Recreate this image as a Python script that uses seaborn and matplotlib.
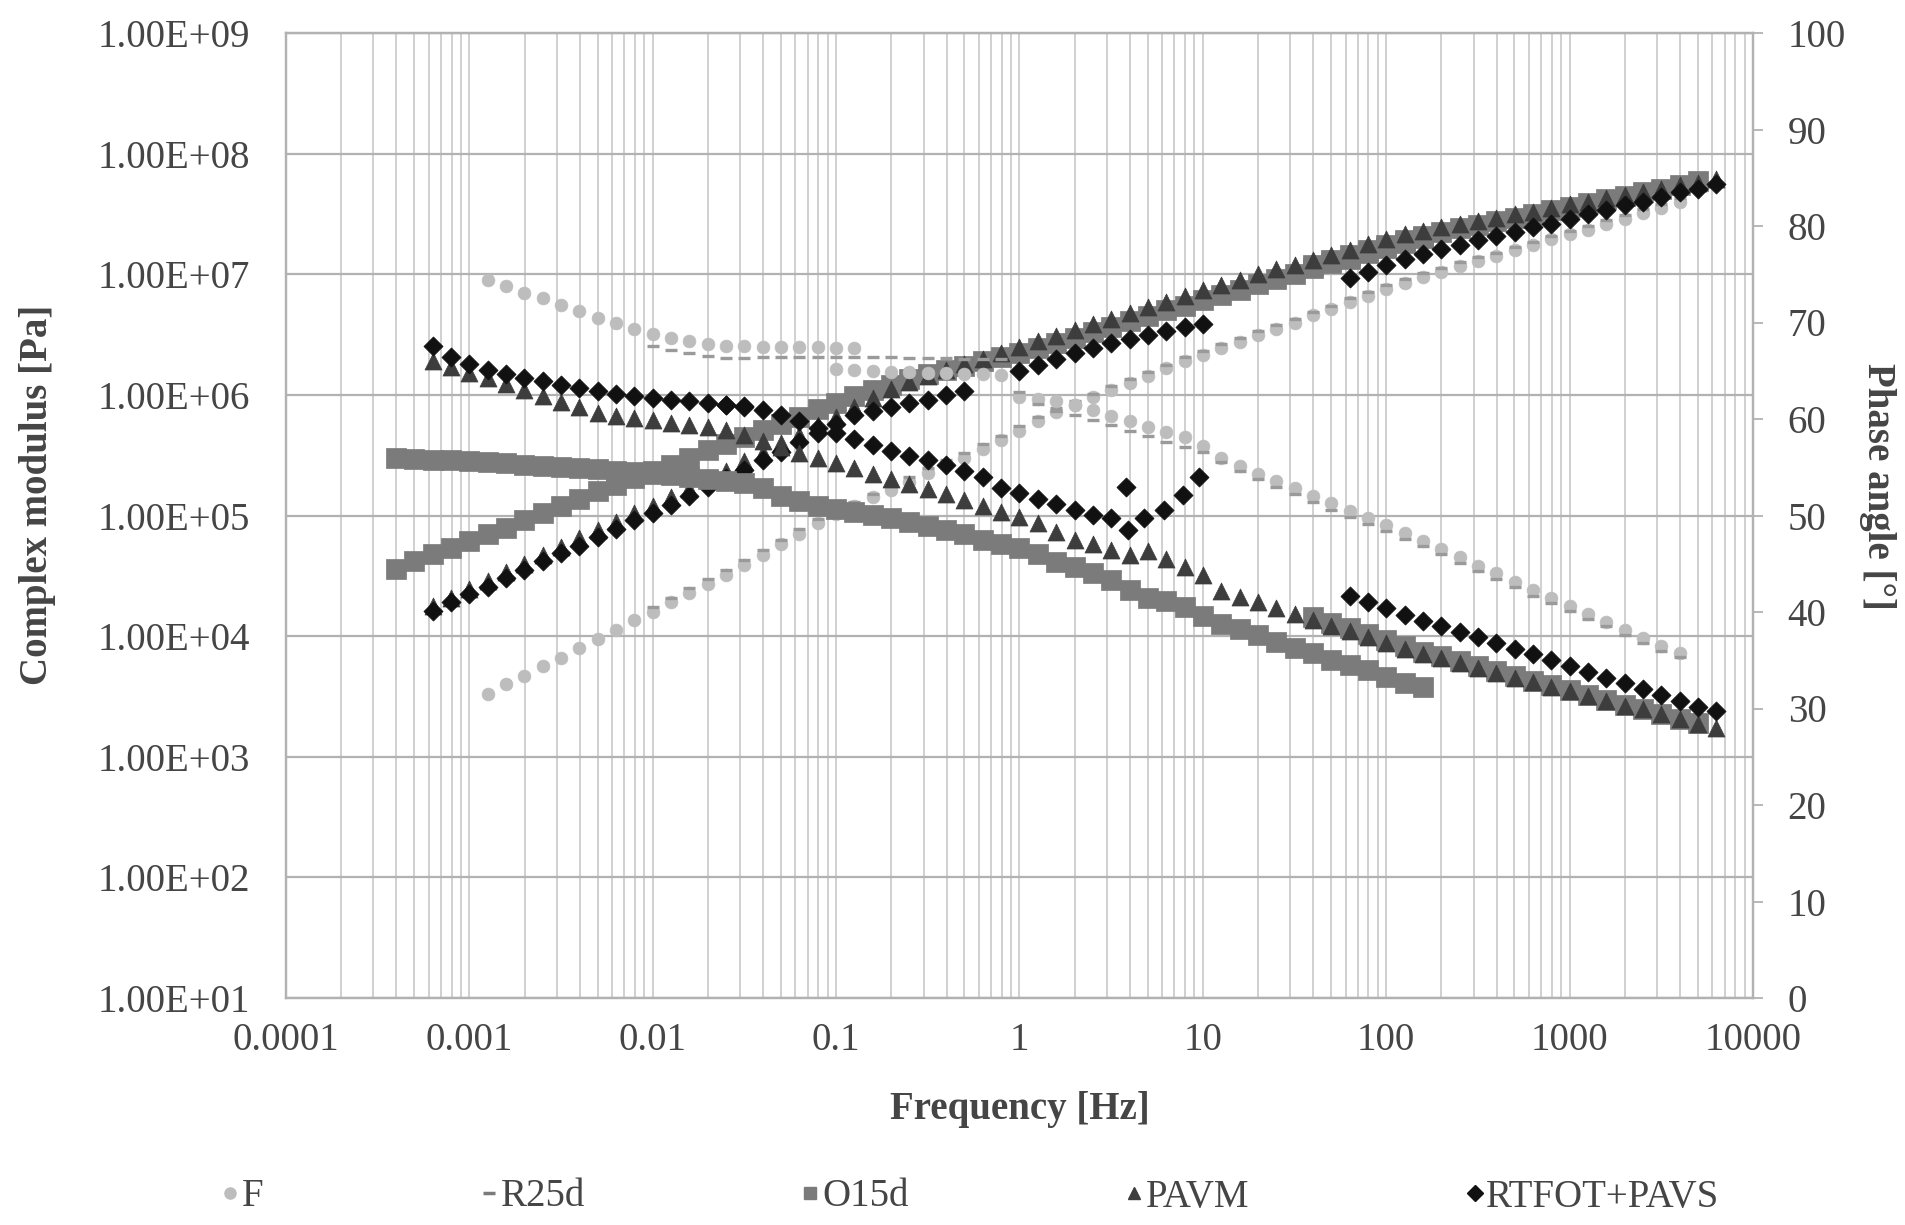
import numpy as np
import matplotlib
import matplotlib.pyplot as plt
from matplotlib.lines import Line2D
from matplotlib.ticker import (FixedLocator, LogLocator, FuncFormatter,
                               NullLocator, NullFormatter)
import seaborn as sns

matplotlib.use("Agg")

# ---- data (log10 frequency [Hz], log10 |G*| [Pa], phase [deg]) ----
F_MOD_LOGF = [-2.9, -2.8, -2.7, -2.6, -2.5, -2.4, -2.3, -2.2, -2.1, -2.0,
              -1.9, -1.8, -1.7, -1.6, -1.5, -1.4, -1.3, -1.2, -1.1, -1.0,
              -0.9, -0.8, -0.7, -0.6, -0.5, -0.4, -0.3, -0.2, -0.1, 0.0,
              0.1, 0.2, 0.3, 0.4, 0.5, 0.6, 0.7, 0.8, 0.9, 1.0,
              1.1, 1.2, 1.3, 1.4, 1.5, 1.6, 1.7, 1.8, 1.9, 2.0,
              2.1, 2.2, 2.3, 2.4, 2.5, 2.6, 2.7, 2.8, 2.9, 3.0,
              3.1, 3.2, 3.3, 3.4, 3.5, 3.6]
F_MOD = [3.52, 3.60, 3.67, 3.75, 3.82, 3.90, 3.98, 4.05, 4.13, 4.20,
         4.28, 4.36, 4.43, 4.51, 4.59, 4.67, 4.76, 4.85, 4.94, 5.01,
         5.08, 5.15, 5.21, 5.28, 5.35, 5.42, 5.48, 5.55, 5.63, 5.70,
         5.78, 5.86, 5.92, 5.98, 6.04, 6.10, 6.16, 6.22, 6.28, 6.33,
         6.39, 6.44, 6.50, 6.55, 6.60, 6.66, 6.71, 6.77, 6.82, 6.88,
         6.93, 6.98, 7.02, 7.07, 7.11, 7.15, 7.20, 7.24, 7.29, 7.33,
         7.37, 7.42, 7.46, 7.51, 7.55, 7.60]
F_PH_LOGF = [-2.9, -2.8, -2.7, -2.6, -2.5, -2.4, -2.3, -2.2, -2.1, -2.0,
             -1.9, -1.8, -1.7, -1.6, -1.5, -1.4, -1.3, -1.2, -1.1, -1.0, -0.9,
             -1.0, -0.9, -0.8, -0.7, -0.6, -0.5, -0.4, -0.3, -0.2, -0.1,
             0.0, 0.1, 0.2, 0.3, 0.4, 0.5, 0.6, 0.7, 0.8, 0.9,
             1.0, 1.1, 1.2, 1.3, 1.4, 1.5, 1.6, 1.7, 1.8, 1.9,
             2.0, 2.1, 2.2, 2.3, 2.4, 2.5, 2.6, 2.7, 2.8, 2.9,
             3.0, 3.1, 3.2, 3.3, 3.4, 3.5, 3.6]
F_PH = [74.4, 73.8, 73.1, 72.5, 71.8, 71.2, 70.5, 69.9, 69.3, 68.8,
        68.4, 68.1, 67.8, 67.6, 67.6, 67.5, 67.5, 67.5, 67.5, 67.4, 67.4,
        65.2, 65.1, 65.0, 64.9, 64.9, 64.8, 64.8, 64.7, 64.7, 64.6,
        62.3, 62.1, 61.9, 61.4, 60.9, 60.3, 59.8, 59.2, 58.7, 58.1,
        57.2, 56.0, 55.1, 54.3, 53.6, 52.8, 52.0, 51.3, 50.5, 49.7,
        49.0, 48.2, 47.4, 46.5, 45.7, 44.8, 44.0, 43.1, 42.3, 41.4,
        40.6, 39.8, 39.0, 38.1, 37.3, 36.5, 35.7]

R25_LOGF = [-2.0, -1.9, -1.8, -1.7, -1.6, -1.5, -1.4, -1.3, -1.2, -1.1,
            -1.0, -0.9, -0.8, -0.7, -0.6, -0.5, -0.4, -0.3, -0.2, -0.1,
            0.0, 0.1, 0.2, 0.3, 0.4, 0.5, 0.6, 0.7, 0.8, 0.9,
            1.0, 1.1, 1.2, 1.3, 1.4, 1.5, 1.6, 1.7, 1.8, 1.9,
            2.0, 2.1, 2.2, 2.3, 2.4, 2.5, 2.6, 2.7, 2.8, 2.9,
            3.0, 3.1, 3.2, 3.3, 3.4, 3.5, 3.6]
R25_MOD = [4.24, 4.32, 4.40, 4.47, 4.55, 4.63, 4.71, 4.80, 4.89, 4.97,
           5.04, 5.11, 5.18, 5.25, 5.32, 5.39, 5.46, 5.52, 5.59, 5.66,
           5.74, 5.82, 5.89, 5.95, 6.01, 6.07, 6.13, 6.19, 6.25, 6.31,
           6.36, 6.42, 6.47, 6.53, 6.58, 6.63, 6.69, 6.74, 6.80, 6.85,
           6.91, 6.96, 7.01, 7.05, 7.10, 7.14, 7.18, 7.23, 7.27, 7.32,
           7.36, 7.40, 7.45, 7.49, 7.54, 7.58, 7.63]
R25_PH = [67.6, 67.2, 66.8, 66.5, 66.3, 66.3, 66.4, 66.4, 66.4, 66.4,
          66.4, 66.4, 66.4, 66.4, 66.3, 66.3, 66.3, 66.2, 66.2, 66.2,
          62.8, 61.6, 60.8, 60.4, 59.9, 59.4, 58.8, 58.2, 57.6, 57.1,
          56.6, 55.5, 54.6, 53.8, 53.0, 52.2, 51.4, 50.6, 49.8, 49.1,
          48.4, 47.6, 46.8, 46.0, 45.1, 44.3, 43.4, 42.6, 41.7, 40.9,
          40.1, 39.3, 38.5, 37.6, 36.8, 36.0, 35.3]

O15_LOGF = [-3.4, -3.3, -3.2, -3.1, -3.0, -2.9, -2.8, -2.7, -2.6, -2.5,
            -2.4, -2.3, -2.2, -2.1, -2.0, -1.9, -1.8, -1.7, -1.6, -1.5,
            -1.4, -1.3, -1.2, -1.1, -1.0, -0.9, -0.8, -0.7, -0.6, -0.5,
            -0.4, -0.3, -0.2, -0.1, 0.0, 0.1, 0.2, 0.3, 0.4, 0.5,
            0.6, 0.7, 0.8, 0.9, 1.0, 1.1, 1.2, 1.3, 1.4, 1.5,
            1.6, 1.7, 1.8, 1.9, 2.0, 2.1, 2.2,
            1.6, 1.7, 1.8, 1.9, 2.0, 2.1, 2.2, 2.3, 2.4, 2.5,
            2.6, 2.7, 2.8, 2.9, 3.0, 3.1, 3.2, 3.3, 3.4, 3.5,
            3.6, 3.7]
O15_MOD = [4.56, 4.62, 4.68, 4.73, 4.79, 4.85, 4.90, 4.96, 5.02, 5.08,
           5.14, 5.20, 5.25, 5.31, 5.37, 5.42, 5.48, 5.54, 5.59, 5.65,
           5.71, 5.76, 5.82, 5.88, 5.93, 5.99, 6.04, 6.08, 6.13, 6.17,
           6.21, 6.24, 6.28, 6.31, 6.35, 6.39, 6.43, 6.47, 6.52, 6.56,
           6.61, 6.65, 6.70, 6.74, 6.79, 6.83, 6.87, 6.92, 6.96, 7.00,
           7.05, 7.09, 7.13, 7.18, 7.22, 7.26, 7.30,
           7.08, 7.12, 7.16, 7.20, 7.24, 7.28, 7.32, 7.35, 7.38, 7.41,
           7.44, 7.47, 7.50, 7.53, 7.56, 7.59, 7.62, 7.65, 7.68, 7.71,
           7.74, 7.77]
O15_PH = [56.0, 55.9, 55.8, 55.7, 55.6, 55.5, 55.4, 55.2, 55.1, 55.0,
          54.9, 54.8, 54.6, 54.5, 54.3, 54.2, 54.0, 53.8, 53.6, 53.4,
          52.8, 52.0, 51.5, 51.0, 50.7, 50.4, 50.1, 49.7, 49.3, 48.9,
          48.5, 48.1, 47.5, 47.0, 46.6, 46.0, 45.2, 44.7, 44.0, 43.3,
          42.3, 41.5, 41.1, 40.5, 39.6, 38.8, 38.2, 37.6, 36.9, 36.3,
          35.7, 35.0, 34.5, 34.0, 33.3, 32.6, 32.2,
          39.5, 38.9, 38.3, 37.7, 37.1, 36.5, 35.9, 35.4, 34.9, 34.4,
          33.9, 33.4, 32.9, 32.4, 31.9, 31.4, 30.9, 30.4, 29.9, 29.4,
          28.9, 28.5]

PAVM_LOGF = [-3.2, -3.1, -3.0, -2.9, -2.8, -2.7, -2.6, -2.5, -2.4, -2.3,
             -2.2, -2.1, -2.0, -1.9, -1.8, -1.7, -1.6, -1.5, -1.4, -1.3,
             -1.2, -1.1, -1.0, -0.9, -0.8, -0.7, -0.6, -0.5, -0.4, -0.3,
             -0.2, -0.1, 0.0, 0.1, 0.2, 0.3, 0.4, 0.5, 0.6, 0.7,
             0.8, 0.9, 1.0, 1.1, 1.2, 1.3, 1.4, 1.5, 1.6, 1.7,
             1.8, 1.9, 2.0, 2.1, 2.2, 2.3, 2.4, 2.5, 2.6, 2.7,
             2.8, 2.9, 3.0, 3.1, 3.2, 3.3, 3.4, 3.5, 3.6, 3.7,
             3.8]
PAVM_MOD = [4.25, 4.32, 4.39, 4.46, 4.53, 4.60, 4.67, 4.74, 4.81, 4.88,
            4.95, 5.02, 5.08, 5.15, 5.22, 5.30, 5.37, 5.45, 5.52, 5.60,
            5.67, 5.75, 5.82, 5.90, 5.97, 6.05, 6.11, 6.16, 6.21, 6.26,
            6.30, 6.35, 6.40, 6.45, 6.49, 6.54, 6.59, 6.63, 6.68, 6.73,
            6.77, 6.82, 6.87, 6.91, 6.95, 7.00, 7.04, 7.08, 7.12, 7.16,
            7.20, 7.25, 7.29, 7.33, 7.36, 7.39, 7.42, 7.44, 7.47, 7.50,
            7.52, 7.55, 7.58, 7.60, 7.63, 7.66, 7.68, 7.71, 7.74, 7.76,
            7.79]
PAVM_PH = [66.0, 65.4, 64.8, 64.2, 63.6, 63.0, 62.4, 61.8, 61.2, 60.6,
           60.3, 60.1, 59.9, 59.6, 59.4, 59.2, 58.9, 58.3, 57.7, 57.1,
           56.5, 56.0, 55.4, 54.9, 54.3, 53.8, 53.3, 52.7, 52.2, 51.6,
           51.0, 50.4, 49.8, 49.2, 48.3, 47.5, 47.0, 46.4, 45.9, 46.3,
           45.5, 44.7, 43.8, 42.2, 41.6, 41.0, 40.4, 39.8, 39.2, 38.6,
           38.0, 37.4, 36.8, 36.2, 35.6, 35.2, 34.7, 34.2, 33.7, 33.2,
           32.7, 32.2, 31.8, 31.3, 30.8, 30.3, 29.9, 29.4, 28.9, 28.4,
           28.0]

RTF_MOD_LOGF = [-3.2, -3.1, -3.0, -2.9, -2.8, -2.7, -2.6, -2.5, -2.4, -2.3,
                -2.2, -2.1, -2.0, -1.9, -1.8, -1.7, -1.6, -1.5, -1.4, -1.3,
                -1.2, -1.1, -1.0, -0.9, -0.8, -0.7, -0.6, -0.5, -0.4, -0.3,
                0.0, 0.1, 0.2, 0.3, 0.4, 0.5, 0.6, 0.7, 0.8, 0.9, 1.0,
                1.8, 1.9, 2.0, 2.1, 2.2, 2.3, 2.4, 2.5, 2.6, 2.7,
                2.8, 2.9, 3.0, 3.1, 3.2, 3.3, 3.4, 3.5, 3.6, 3.7, 3.8]
RTF_MOD = [4.21, 4.28, 4.35, 4.41, 4.48, 4.55, 4.62, 4.69, 4.75, 4.82,
           4.89, 4.96, 5.02, 5.09, 5.16, 5.24, 5.31, 5.38, 5.46, 5.53,
           5.61, 5.68, 5.76, 5.83, 5.87, 5.90, 5.93, 5.96, 6.00, 6.03,
           6.20, 6.25, 6.30, 6.35, 6.39, 6.43, 6.46, 6.50, 6.53, 6.56, 6.59,
           6.97, 7.02, 7.08, 7.13, 7.17, 7.21, 7.24, 7.28, 7.32, 7.35,
           7.39, 7.42, 7.46, 7.50, 7.53, 7.57, 7.60, 7.64, 7.68, 7.71, 7.75]
RTF_PH_LOGF = [-3.2, -3.1, -3.0, -2.9, -2.8, -2.7, -2.6, -2.5, -2.4, -2.3,
               -2.2, -2.1, -2.0, -1.9, -1.8, -1.7, -1.6, -1.5,
               -1.6, -1.5, -1.4, -1.3, -1.2, -1.1, -1.0, -0.9, -0.8, -0.7,
               -0.6, -0.5, -0.4, -0.3, -0.2, -0.1, 0.0, 0.1, 0.2, 0.3,
               0.4, 0.5,
               0.58, 0.59, 0.68, 0.79, 0.89, 0.98,
               1.8, 1.9, 2.0, 2.1, 2.2, 2.3, 2.4, 2.5, 2.6, 2.7,
               2.8, 2.9, 3.0, 3.1, 3.2, 3.3, 3.4, 3.5, 3.6, 3.7, 3.8]
RTF_PH = [67.6, 66.4, 65.7, 65.1, 64.7, 64.3, 63.9, 63.5, 63.2, 62.9,
          62.6, 62.4, 62.2, 62.0, 61.9, 61.7, 61.5, 61.3,
          61.4, 61.2, 60.9, 60.4, 59.8, 59.1, 58.5, 57.9, 57.3, 56.7,
          56.2, 55.7, 55.2, 54.6, 54.0, 52.9, 52.3, 51.7, 51.2, 50.6,
          50.1, 49.7,
          53.0, 48.5, 49.7, 50.6, 52.1, 54.0,
          41.7, 41.0, 40.4, 39.7, 39.1, 38.5, 37.9, 37.4, 36.8, 36.2,
          35.6, 35.0, 34.4, 33.8, 33.2, 32.6, 32.0, 31.4, 30.8, 30.2, 29.7]

LABELS = ["F", "R25d", "O15d", "PAVM", "RTFOT+PAVS"]
COLORS = ["#bdbdbd", "#9a9a9a", "#7b7b7b", "#3d3d3d", "#111111"]
MARKERS = ["o", "_", "s", "^", "D"]
SIZES = [85, 70, 190, 150, 95]

TXT = "#454545"
GRID_H = "#b2b2b2"
GRID_V = "#cdcdcd"

sns.set_style("white")
plt.rcParams["font.family"] = ["Liberation Serif", "DejaVu Serif"]


def scatter(ax, logf, vals, idx, log_y):
    x = 10.0 ** np.array(logf)
    y = 10.0 ** np.array(vals) if log_y else np.array(vals)
    kw = dict(marker=MARKERS[idx], color=COLORS[idx], s=SIZES[idx],
              legend=False, zorder=3)
    if MARKERS[idx] == "_":
        kw["linewidth"] = 2.4
    else:
        kw["edgecolor"] = COLORS[idx]
        kw["linewidth"] = 0.5
    sns.scatterplot(x=x, y=y, ax=ax, **kw)


fig = plt.figure(figsize=(19.06, 12.25), dpi=100)
ax = fig.add_axes([286 / 1906, 1 - 998 / 1225, 1467 / 1906, 965 / 1225])
ax2 = ax.twinx()

modulus = [(F_MOD_LOGF, F_MOD), (R25_LOGF, R25_MOD), (O15_LOGF, O15_MOD),
           (PAVM_LOGF, PAVM_MOD), (RTF_MOD_LOGF, RTF_MOD)]
phase = [(F_PH_LOGF, F_PH), (R25_LOGF, R25_PH), (O15_LOGF, O15_PH),
         (PAVM_LOGF, PAVM_PH), (RTF_PH_LOGF, RTF_PH)]

for i, (lf, v) in enumerate(modulus):
    scatter(ax, lf, v, i, True)
for i, (lf, v) in enumerate(phase):
    scatter(ax2, lf, v, i, False)

ax.set_xscale("log")
ax.set_yscale("log")
ax.set_xlim(1e-4, 1e4)
ax.set_ylim(10, 1e9)
ax2.set_ylim(0, 100)

ax.xaxis.set_major_locator(FixedLocator([1e-4, 1e-3, 1e-2, 1e-1, 1, 10, 100, 1000, 10000]))
ax.xaxis.set_minor_locator(LogLocator(base=10, subs=[2, 3, 4, 5, 6, 7, 8, 9], numticks=20))
ax.xaxis.set_minor_formatter(NullFormatter())
ax.xaxis.set_major_formatter(FuncFormatter(lambda v, p: f"{v:g}"))
ax.yaxis.set_major_locator(FixedLocator([1e1, 1e2, 1e3, 1e4, 1e5, 1e6, 1e7, 1e8, 1e9]))
ax.yaxis.set_minor_locator(NullLocator())
ax.yaxis.set_major_formatter(FuncFormatter(lambda v, p: f"{v:.2E}"))
ax2.yaxis.set_major_locator(FixedLocator(list(range(0, 101, 10))))

ax.set_axisbelow(True)
ax.grid(which="major", axis="y", color=GRID_H, linewidth=1.6)
ax.grid(which="both", axis="x", color=GRID_V, linewidth=1.3)
ax2.grid(False)

ax.tick_params(axis="x", which="both", length=0, pad=17, labelsize=28, labelcolor=TXT)
ax.tick_params(axis="y", which="both", length=0, pad=26, labelsize=28, labelcolor=TXT)
ax2.tick_params(axis="y", length=7, width=1.3, color=GRID_H, direction="out",
                pad=18, labelsize=28, labelcolor=TXT)

for a in (ax, ax2):
    for sp in a.spines.values():
        sp.set_color(GRID_H)
        sp.set_linewidth(1.6)

ax.set_xlabel("Frequency [Hz]", fontsize=28, fontweight="bold", color=TXT, va="center")
ax.xaxis.set_label_coords(0.5, (998 - 1109) / 965)
ax.set_ylabel("Complex modulus [Pa]", fontsize=28, fontweight="bold", color=TXT, va="center")
ax.yaxis.set_label_coords((38 - 286) / 1467, (998 - 495) / 965)
ax2.set_ylabel("Phase angle [°]", fontsize=28, fontweight="bold", color=TXT,
               rotation=270, va="center")
ax2.yaxis.set_label_coords((1878 - 286) / 1467, (998 - 486) / 965)

handles = []
for i in range(5):
    if MARKERS[i] == "_":
        h = Line2D([0], [0], linestyle="none", marker="_", markersize=9,
                   markeredgewidth=2.5, color="#7b7b7b")
    else:
        h = Line2D([0], [0], linestyle="none", marker=MARKERS[i], markersize=8,
                   markerfacecolor=COLORS[i], markeredgecolor=COLORS[i])
    handles.append(h)

fig.legend(handles, LABELS, loc="center", ncol=5, mode="expand", frameon=False,
           bbox_to_anchor=(205 / 1906, 1 - 1197 / 1225, 1530 / 1906, 0),
           fontsize=28, handlelength=0.5, handletextpad=0.05, borderaxespad=0,
           labelcolor=TXT)

fig.savefig("out.png", dpi=100)
plt.close(fig)
